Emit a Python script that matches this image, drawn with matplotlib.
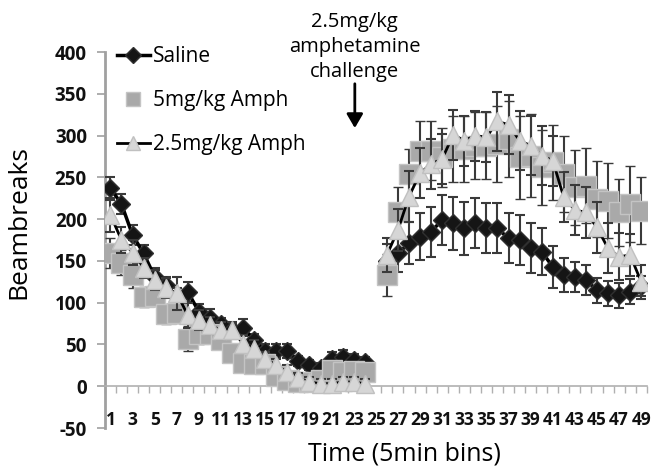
import numpy as np
import matplotlib as mpl
import matplotlib.pyplot as plt
from matplotlib.lines import Line2D
from matplotlib.patches import FancyArrowPatch

mpl.rcParams['font.family'] = ['Open Sans', 'DejaVu Sans']
mpl.rcParams['axes.unicode_minus'] = False

# time bins 1..49, bin 25 empty (challenge)
bins = np.arange(1, 50)

saline_pre = [237, 218, 181, 159, 131, 121, 108, 113, 89, 82, 74, 67, 70, 55, 42,
              42, 42, 30, 25, 22, 33, 35, 31, 29]
saline_post = [150, 159, 171, 179, 185, 199, 195, 189, 195, 189, 189, 177, 175, 165,
               161, 143, 133, 131, 127, 115, 111, 109, 113, 120]
saline_err_pre = [14, 12, 12, 10, 10, 10, 10, 12, 10, 10, 8, 8, 10, 8, 8, 8, 8, 6,
                  6, 6, 8, 8, 8, 6]
saline_err_post = [20, 22, 25, 28, 30, 30, 32, 32, 30, 30, 30, 30, 30, 30, 28, 25, 20,
                   18, 18, 15, 15, 15, 15, 12]

amph5_pre = [160, 148, 133, 107, 108, 87, 88, 57, 63, 62, 55, 40, 28, 27, 27, 12, 7,
             5, 5, 8, 19, 17, 18, 17]
amph5_post = [133, 208, 254, 282, 282, 274, 284, 284, 288, 288, 290, 296, 274, 276,
              262, 268, 254, 238, 240, 224, 222, 208, 218, 210]
amph5_err_pre = [18, 15, 15, 12, 12, 12, 12, 15, 12, 10, 10, 10, 10, 10, 10, 8, 8, 8,
                 8, 8, 8, 8, 8, 8]
amph5_err_post = [25, 30, 30, 35, 35, 35, 40, 40, 40, 40, 45, 45, 50, 50, 45, 45, 45,
                  45, 45, 45, 45, 40, 45, 40]

amph25_pre = [205, 175, 160, 142, 127, 118, 111, 85, 79, 73, 67, 67, 51, 45, 33, 25,
              17, 10, 5, 3, 3, 5, 5, 3]
amph25_post = [157, 187, 227, 255, 266, 272, 301, 294, 300, 298, 317, 313, 294, 288,
               276, 270, 226, 211, 208, 190, 165, 155, 157, 125]
amph25_err_pre = [20, 15, 15, 12, 12, 12, 20, 15, 12, 10, 10, 10, 10, 10, 8, 8, 8, 6,
                  6, 6, 6, 6, 6, 6]
amph25_err_post = [20, 25, 30, 30, 30, 30, 30, 30, 30, 30, 35, 35, 35, 35, 35, 30, 30,
                   30, 30, 30, 30, 28, 25, 20]

tick_labels = [str(i) for i in range(1, 50, 2)]


def join(pre, post):
    return np.concatenate([pre, [np.nan], post])


fig = plt.figure(figsize=(6.64, 4.72), dpi=100)
ax = fig.add_axes([0.158, 0.0932, 0.816, 0.7966])

ebar = dict(ecolor='#3a3a3a', elinewidth=1.5, capsize=3.5, capthick=1.5)

ax.errorbar(bins, join(saline_pre, saline_post), yerr=join(saline_err_pre, saline_err_post),
            color='black', lw=2.5, marker='D', ms=9.5, mfc='#151515', mec='#303030',
            zorder=3, **ebar)
ax.errorbar(bins, join(amph5_pre, amph5_post), yerr=join(amph5_err_pre, amph5_err_post),
            ls='none', marker='s', ms=14.5, mfc='#a9a9a9', mec='#c4c4c4', mew=1,
            zorder=4, **ebar)
ax.errorbar(bins, join(amph25_pre, amph25_post), yerr=join(amph25_err_pre, amph25_err_post),
            color='black', lw=2, marker='^', ms=12.5, mfc='#d6d6d6', mec='#c0c0c0',
            zorder=5, **ebar)

ax.set_xlim(0.5, 49.5)
ax.set_ylim(-50, 400)
ax.set_yticks(np.arange(-50, 401, 50))
ax.set_xticks(np.arange(1, 50, 2))
ax.set_xticklabels(tick_labels)
ax.set_xticks(np.arange(0.5, 50, 1), minor=True)

for s in ['top', 'right']:
    ax.spines[s].set_visible(False)
ax.spines['bottom'].set_position(('data', 0))
ax.spines['bottom'].set_color('#b0b0b0')
ax.spines['bottom'].set_linewidth(1.2)
ax.spines['left'].set_color('#a0a0a0')
ax.spines['left'].set_linewidth(2)

ax.tick_params(axis='y', length=6, width=1.2, color='#a0a0a0', labelsize=13.5,
               pad=7, labelcolor='#111111')
ax.tick_params(axis='x', which='major', length=0, labelsize=12.5, pad=18,
               labelcolor='#111111')
ax.tick_params(axis='x', which='minor', length=5, width=1, color='#b0b0b0',
               direction='out')
for lab in ax.get_xticklabels() + ax.get_yticklabels():
    lab.set_fontweight('bold')

ax.set_ylabel('Beambreaks', fontsize=19)
ax.yaxis.set_label_coords(-0.135, 0.548)
ax.set_xlabel('Time (5min bins)', fontsize=18)
ax.xaxis.set_label_coords(0.552, -0.035)

handles = [
    Line2D([], [], color='black', lw=2.5, marker='D', ms=8, mfc='#151515', mec='#303030'),
    Line2D([], [], ls='none', marker='s', ms=10, mfc='#a9a9a9', mec='#c4c4c4'),
    Line2D([], [], color='black', lw=2, marker='^', ms=10, mfc='#d6d6d6', mec='#c0c0c0'),
]
ax.legend(handles, ['Saline', '5mg/kg Amph', '2.5mg/kg Amph'], loc='upper left',
          bbox_to_anchor=(0.022, 1.015), frameon=False, fontsize=15,
          borderaxespad=0, borderpad=0,
          handlelength=1.6, handletextpad=0.15, labelspacing=1.1)

ax.text(23.1, 364, '2.5mg/kg\namphetamine\nchallenge', ha='center', va='bottom',
        fontsize=14.5, linespacing=1.35, clip_on=False)
arrow = FancyArrowPatch((23.1, 362), (23.1, 309), arrowstyle='-|>,head_length=0.6,head_width=0.35',
                        mutation_scale=14, color='black', lw=2, shrinkA=0, shrinkB=0,
                        clip_on=False, zorder=6)
ax.add_patch(arrow)

fig.savefig('out.png', dpi=100)
